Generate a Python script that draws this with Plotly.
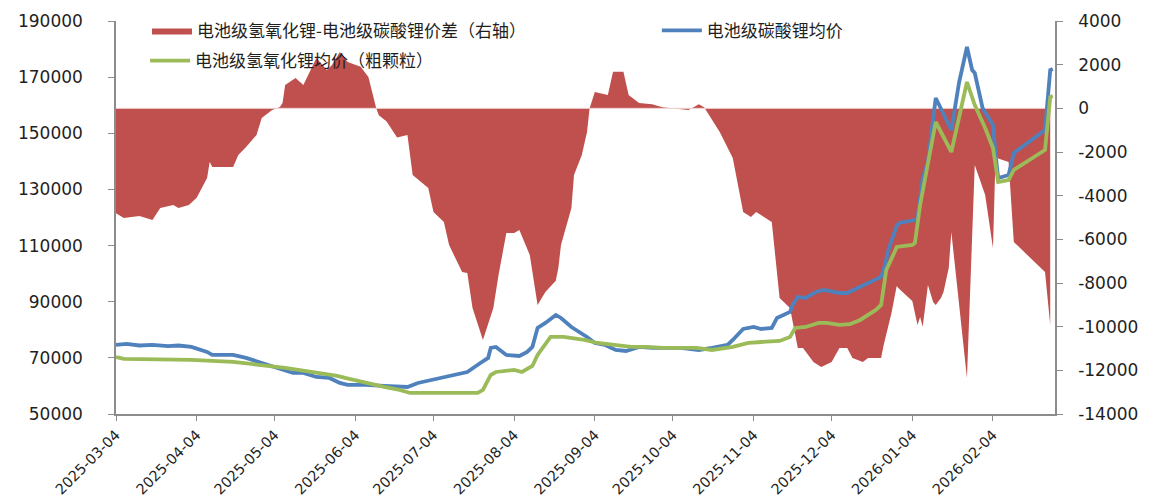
import plotly.graph_objects as go

# 价差(右轴)
spread_dates = [
    "2025-03-04", "2025-03-07", "2025-03-13", "2025-03-18", "2025-03-21", "2025-03-26", "2025-03-28",
    "2025-04-01", "2025-04-04", "2025-04-08", "2025-04-09", "2025-04-10", "2025-04-18", "2025-04-20",
    "2025-04-23", "2025-04-27", "2025-04-29", "2025-05-03", "2025-05-06", "2025-05-07", "2025-05-08",
    "2025-05-12", "2025-05-15", "2025-05-18", "2025-05-20", "2025-05-24", "2025-05-26", "2025-05-29",
    "2025-06-01", "2025-06-06", "2025-06-09", "2025-06-12", "2025-06-13", "2025-06-16", "2025-06-20",
    "2025-06-24", "2025-06-26", "2025-07-02", "2025-07-04", "2025-07-08", "2025-07-10", "2025-07-15",
    "2025-07-17", "2025-07-19", "2025-07-23", "2025-07-27", "2025-07-29", "2025-08-01", "2025-08-04",
    "2025-08-06", "2025-08-10", "2025-08-13", "2025-08-16", "2025-08-20", "2025-08-21", "2025-08-22",
    "2025-08-26", "2025-08-27", "2025-08-30", "2025-09-01", "2025-09-02", "2025-09-04", "2025-09-09",
    "2025-09-11", "2025-09-15", "2025-09-17", "2025-09-21", "2025-09-26", "2025-09-30", "2025-10-10",
    "2025-10-14", "2025-10-16", "2025-10-18", "2025-10-22", "2025-10-27", "2025-10-29", "2025-10-31",
    "2025-11-03", "2025-11-05", "2025-11-11", "2025-11-13", "2025-11-14", "2025-11-18", "2025-11-21",
    "2025-11-23", "2025-11-27", "2025-11-30", "2025-12-04", "2025-12-07", "2025-12-10", "2025-12-12",
    "2025-12-16", "2025-12-18", "2025-12-23", "2025-12-24", "2025-12-27", "2025-12-29", "2025-12-30",
    "2026-01-04", "2026-01-06", "2026-01-07", "2026-01-08", "2026-01-10", "2026-01-12", "2026-01-13",
    "2026-01-15", "2026-01-16", "2026-01-18", "2026-01-19", "2026-01-25", "2026-01-28", "2026-02-01",
    "2026-02-04", "2026-02-05", "2026-02-06", "2026-02-10", "2026-02-12", "2026-02-24", "2026-02-26",
]
spread_vals = [
    -4800, -5020, -4930, -5110, -4560, -4430, -4560,
    -4430, -4100, -3190, -2460, -2690, -2690, -2140,
    -1770, -1220, -440, -80, 60, 240, 1070,
    1390, 1070, 1850, 2300, 1760, 1990, 2580,
    2120, 1900, 1440, 0, -320, -600, -1340,
    -1220, -3050, -3650, -4750, -5210, -6260, -7500,
    -7540, -9140, -10610, -9140, -7630, -5710, -5710,
    -5570, -6720, -9010, -8410, -7900, -7300, -6260,
    -4560, -3050, -2140, -1080, 0, 750, 610,
    1670, 1670, 610, 240, 190, 50, -80,
    190, 50, -320, -1080, -2280, -3510, -4750,
    -4980, -4750, -5210, -7630, -8690, -9140, -10980,
    -10980, -11620, -11850, -11620, -10980, -10980, -11430,
    -11620, -11430, -11430, -10840, -9370, -8140, -8280,
    -8830, -9920, -9560, -10000, -8090, -8870, -9010,
    -8690, -8410, -7310, -5660, -12350, -2600, -3970,
    -6400, -2140, -2300, -2460, -6120, -7500, -9920,
]

# 电池级碳酸锂均价
lce_dates = [
    "2025-03-04", "2025-03-08", "2025-03-13", "2025-03-18", "2025-03-24", "2025-03-28", "2025-04-02",
    "2025-04-08", "2025-04-10", "2025-04-18", "2025-04-23", "2025-04-28", "2025-05-03", "2025-05-07",
    "2025-05-11", "2025-05-15", "2025-05-20", "2025-05-25", "2025-05-29", "2025-06-01", "2025-06-08",
    "2025-06-15", "2025-06-24", "2025-06-28", "2025-07-03", "2025-07-09", "2025-07-14", "2025-07-17",
    "2025-07-22", "2025-07-25", "2025-07-26", "2025-07-28", "2025-08-01", "2025-08-06", "2025-08-09",
    "2025-08-11", "2025-08-13", "2025-08-16", "2025-08-20", "2025-08-22", "2025-08-26", "2025-08-30",
    "2025-09-01", "2025-09-04", "2025-09-08", "2025-09-12", "2025-09-16", "2025-09-21", "2025-09-26",
    "2025-10-07", "2025-10-14", "2025-10-19", "2025-10-25", "2025-10-27", "2025-10-31", "2025-11-04",
    "2025-11-07", "2025-11-11", "2025-11-13", "2025-11-18", "2025-11-19", "2025-11-21", "2025-11-24",
    "2025-11-28", "2025-12-01", "2025-12-07", "2025-12-10", "2025-12-14", "2025-12-18", "2025-12-23",
    "2025-12-24", "2025-12-26", "2025-12-29", "2025-12-30", "2026-01-05", "2026-01-06", "2026-01-08",
    "2026-01-10", "2026-01-13", "2026-01-19", "2026-01-22", "2026-01-25", "2026-01-27", "2026-01-28",
    "2026-01-31", "2026-02-04", "2026-02-05", "2026-02-06", "2026-02-10", "2026-02-12", "2026-02-24",
    "2026-02-26", "2026-02-27",
]
lce_vals = [
    74600, 74950, 74400, 74600, 74200, 74400, 73900,
    72100, 71030, 71030, 69970, 68540, 67110, 65690,
    64620, 64620, 63190, 62840, 61060, 60350, 60350,
    60000, 59630, 61060, 62120, 63550, 64620, 64970,
    68180, 69970, 73530, 73890, 71030, 70680, 72100,
    73890, 80650, 82430, 85280, 84210, 81000, 78870,
    77440, 75300, 74600, 72810, 72460, 73890, 73530,
    73530, 72810, 73530, 74600, 76370, 80290, 81000,
    80290, 80650, 84210, 86350, 88840, 91690, 91340,
    93470, 94180, 93110, 93110, 94890, 96670, 98810,
    101300, 109000, 117000, 118050, 119110, 119470, 134070,
    139770, 162570, 151170, 168270, 180740, 172540, 171480,
    159010, 152950, 142270, 134070, 135150, 142980, 151170,
    172540, 172900,
]

# 电池级氢氧化锂均价(粗颗粒)
lhc_dates = [
    "2025-03-04", "2025-03-07", "2025-04-02", "2025-04-10", "2025-04-18", "2025-04-25", "2025-05-03",
    "2025-05-08", "2025-05-13", "2025-05-21", "2025-05-28", "2025-05-31", "2025-06-08", "2025-06-15",
    "2025-06-21", "2025-06-25", "2025-06-30", "2025-07-21", "2025-07-23", "2025-07-26", "2025-07-28",
    "2025-08-04", "2025-08-07", "2025-08-11", "2025-08-13", "2025-08-18", "2025-08-23", "2025-08-31",
    "2025-09-05", "2025-09-11", "2025-09-18", "2025-09-24", "2025-09-30", "2025-10-13", "2025-10-19",
    "2025-10-27", "2025-11-02", "2025-11-07", "2025-11-12", "2025-11-14", "2025-11-18", "2025-11-20",
    "2025-11-24", "2025-11-29", "2025-12-02", "2025-12-07", "2025-12-11", "2025-12-15", "2025-12-18",
    "2025-12-21", "2025-12-23", "2025-12-25", "2025-12-28", "2025-12-29", "2026-01-04", "2026-01-05",
    "2026-01-07", "2026-01-13", "2026-01-19", "2026-01-25", "2026-01-28", "2026-02-01", "2026-02-04",
    "2026-02-06", "2026-02-10", "2026-02-12", "2026-02-24", "2026-02-26", "2026-02-27",
]
lhc_vals = [
    70310, 69610, 69250, 68890, 68540, 67820, 67110,
    66400, 65690, 64620, 63550, 62840, 61060, 59630,
    58560, 57490, 57490, 57490, 58560, 63900, 64970,
    65690, 64970, 67110, 71030, 77440, 77440, 76370,
    75300, 74600, 73890, 73890, 73530, 73530, 72810,
    73890, 75300, 75650, 76010, 76010, 77440, 80650,
    81000, 82430, 82430, 81720, 82000, 83500, 85280,
    87060, 88840, 101300, 107360, 109500, 110210, 110920,
    124460, 154020, 143340, 168270, 160080, 151890, 144770,
    132650, 133360, 136930, 144050, 162930, 163300,
]

left_ticks = list(range(50000, 190001, 20000))
right_ticks = list(range(-14000, 4001, 2000))

RED, BLUE, GREEN = "#C0504D", "#4F81BD", "#9BBB59"
AXIS = "#8C8C8C"
TXT = "#1F1F1F"
FONT = "DejaVu Sans, Noto Sans CJK SC"
CJK = "Noto Sans CJK SC, DejaVu Sans"

fig = go.Figure()
# 价差放在主 y 轴(右侧),两条价格线放在叠加轴(左侧),线才会画在面积上面
fig.add_trace(go.Scatter(x=spread_dates, y=spread_vals, mode="lines", fill="tozeroy",
                         fillcolor=RED, line=dict(color=RED, width=0),
                         name="电池级氢氧化锂-电池级碳酸锂价差（右轴）", yaxis="y", legend="legend"))
fig.add_trace(go.Scatter(x=[spread_dates[0], spread_dates[-1]], y=[0, 0], mode="lines",
                         line=dict(color="#EFD3D2", width=1), showlegend=False,
                         hoverinfo="skip", yaxis="y"))
fig.add_trace(go.Scatter(x=lce_dates, y=lce_vals, mode="lines",
                         line=dict(color=BLUE, width=3.8),
                         name="电池级碳酸锂均价", yaxis="y2", legend="legend2"))
fig.add_trace(go.Scatter(x=lhc_dates, y=lhc_vals, mode="lines",
                         line=dict(color=GREEN, width=3.8),
                         name="电池级氢氧化锂均价（粗颗粒）", yaxis="y2", legend="legend3"))

tickfont = dict(family=FONT, size=17, color=TXT)
leg = dict(orientation="h", xanchor="left", yanchor="middle", bgcolor="rgba(0,0,0,0)",
           itemwidth=40, font=dict(family=CJK, size=17, color=TXT))

# 页面 body 自带 8px 边距,画布整体缩 8px 抵消
fig.update_layout(
    width=1146, height=492,
    margin=dict(l=108, r=99, t=13, b=86, autoexpand=False),
    paper_bgcolor="white", plot_bgcolor="white",
    font=dict(family=FONT, size=17, color=TXT),
    xaxis=dict(type="date", range=["2025-03-04", "2026-02-27 20:00"], automargin=False,
               tick0="2025-03-04", dtick="M1", tickformat="%Y-%m-%d", tickangle=-45,
               showline=True, linecolor=AXIS, linewidth=1.5, ticks="outside", ticklen=5,
               tickcolor=AXIS, showgrid=False, zeroline=False,
               tickfont=dict(tickfont, size=14.5)),
    yaxis=dict(side="right", range=[-14000, 4000], tickvals=right_ticks, automargin=False,
               ticktext=[str(v) for v in right_ticks],
               showline=True, linecolor=AXIS, linewidth=1.5, ticks="outside", ticklen=6,
               tickcolor=AXIS, showgrid=False, zeroline=False, tickfont=tickfont,
               ticklabelstandoff=12),
    yaxis2=dict(side="left", overlaying="y", range=[50000, 190000], tickvals=left_ticks,
                ticktext=[str(v) for v in left_ticks], automargin=False,
                showline=True, linecolor=AXIS, linewidth=1.5, ticks="outside", ticklen=6,
                tickcolor=AXIS, showgrid=False, zeroline=False, tickfont=tickfont,
                ticklabelstandoff=22),
    legend=dict(leg, x=0.033, y=0.975),
    legend2=dict(leg, x=0.576, y=0.975),
    legend3=dict(leg, x=0.031, y=0.898),
    hovermode=False,
)

fig.write_html("out.html")
